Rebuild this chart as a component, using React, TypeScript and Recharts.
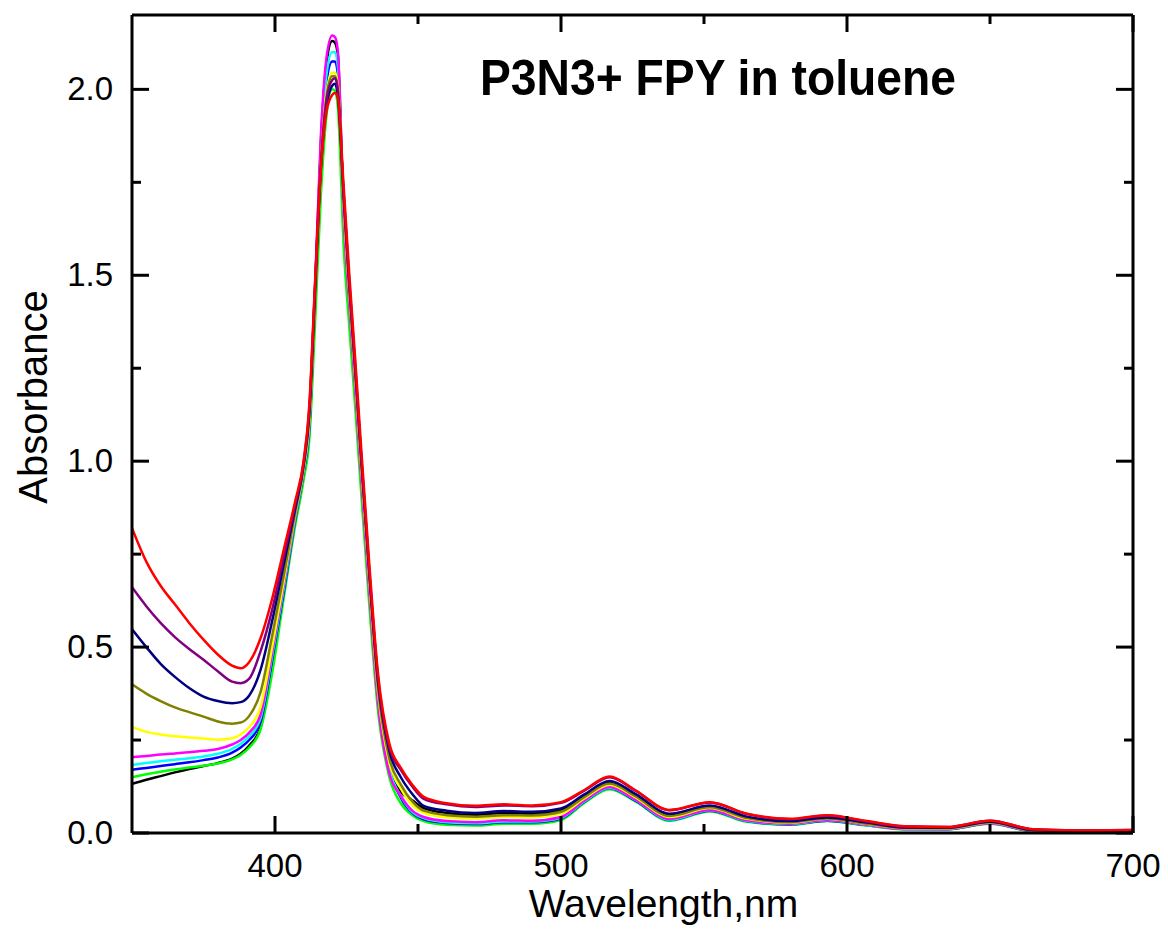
import { LineChart, Line, XAxis, YAxis } from 'recharts'

// wavelength grid, nm
const wavelengths = [
  350, 355, 360, 365, 370, 375, 380, 385, 388, 391, 395,
  399, 403, 407, 410, 412, 414, 416, 418,
  420, 421, 422, 424, 426, 428, 430, 433, 436, 440, 444, 448,
  452, 460, 470, 480, 490, 500, 508, 517, 526, 538, 552, 565, 580, 593, 607, 620, 635, 650, 665, 680, 700,
]

const blackAbs = [
  0.132, 0.143, 0.153, 0.163, 0.172, 0.18, 0.188, 0.2, 0.213, 0.235, 0.285,
  0.45, 0.64, 0.835, 0.96, 1.08, 1.45, 1.85, 2.07,
  2.13, 2.125, 2.09, 1.66, 1.42, 1.2, 0.97, 0.65, 0.36, 0.17, 0.11, 0.088,
  0.067, 0.054, 0.049, 0.054, 0.052, 0.061, 0.099, 0.137, 0.102, 0.049, 0.072, 0.042, 0.031, 0.041, 0.027, 0.014, 0.013, 0.029, 0.008, 0.005, 0.006,
]
const greenAbs = [
  0.15, 0.158, 0.165, 0.171, 0.176, 0.181, 0.187, 0.198, 0.21, 0.23, 0.28,
  0.43, 0.63, 0.825, 0.95, 1.06, 1.37, 1.71, 1.93,
  2.0, 1.995, 1.95, 1.58, 1.36, 1.15, 0.93, 0.61, 0.33, 0.15, 0.08, 0.048,
  0.032, 0.022, 0.02, 0.025, 0.025, 0.035, 0.08, 0.118, 0.085, 0.033, 0.058, 0.03, 0.022, 0.032, 0.02, 0.01, 0.01, 0.025, 0.005, 0.003, 0.003,
]
const blueAbs = [
  0.17, 0.175, 0.18, 0.185, 0.19, 0.196, 0.203, 0.216, 0.23, 0.25, 0.3,
  0.465, 0.645, 0.84, 0.97, 1.09, 1.44, 1.8, 2.02,
  2.075, 2.075, 2.04, 1.68, 1.44, 1.22, 0.99, 0.665, 0.37, 0.175, 0.095, 0.054,
  0.037, 0.027, 0.024, 0.029, 0.029, 0.039, 0.083, 0.121, 0.087, 0.035, 0.06, 0.032, 0.023, 0.033, 0.021, 0.011, 0.01, 0.026, 0.005, 0.003, 0.003,
]
const cyanAbs = [
  0.183, 0.188, 0.193, 0.197, 0.201, 0.206, 0.213, 0.226, 0.24, 0.26, 0.31,
  0.475, 0.655, 0.845, 0.975, 1.1, 1.45, 1.82, 2.04,
  2.1, 2.1, 2.06, 1.67, 1.43, 1.21, 0.98, 0.655, 0.36, 0.17, 0.1, 0.057,
  0.04, 0.029, 0.026, 0.031, 0.031, 0.041, 0.084, 0.122, 0.089, 0.036, 0.061, 0.033, 0.024, 0.034, 0.021, 0.011, 0.011, 0.026, 0.006, 0.003, 0.004,
]
const magentaAbs = [
  0.204, 0.207, 0.211, 0.214, 0.217, 0.221, 0.226, 0.238, 0.25, 0.27, 0.32,
  0.485, 0.665, 0.85, 0.98, 1.11, 1.47, 1.87, 2.085,
  2.145, 2.14, 2.1, 1.66, 1.42, 1.2, 0.97, 0.645, 0.35, 0.16, 0.1, 0.06,
  0.043, 0.032, 0.029, 0.034, 0.033, 0.043, 0.086, 0.124, 0.09, 0.038, 0.062, 0.034, 0.025, 0.035, 0.022, 0.011, 0.011, 0.026, 0.006, 0.004, 0.004,
]
const yellowAbs = [
  0.285, 0.272, 0.265, 0.26, 0.257, 0.254, 0.251, 0.255, 0.265, 0.285, 0.34,
  0.5, 0.675, 0.855, 0.98, 1.11, 1.44, 1.79, 1.99,
  2.045, 2.045, 2.01, 1.69, 1.45, 1.23, 1.0, 0.675, 0.38, 0.19, 0.12, 0.075,
  0.054, 0.042, 0.039, 0.043, 0.042, 0.052, 0.092, 0.13, 0.096, 0.043, 0.067, 0.038, 0.028, 0.038, 0.024, 0.013, 0.012, 0.028, 0.007, 0.004, 0.005,
]
const oliveAbs = [
  0.4, 0.375, 0.355, 0.338, 0.325, 0.313, 0.3, 0.294, 0.297, 0.315, 0.38,
  0.53, 0.69, 0.86, 0.985, 1.12, 1.43, 1.79, 1.98,
  2.035, 2.035, 2.0, 1.7, 1.46, 1.24, 1.01, 0.685, 0.39, 0.2, 0.13, 0.085,
  0.06, 0.048, 0.044, 0.048, 0.047, 0.057, 0.096, 0.133, 0.099, 0.046, 0.069, 0.04, 0.029, 0.039, 0.025, 0.014, 0.013, 0.029, 0.007, 0.005, 0.005,
]
const navyAbs = [
  0.548, 0.5, 0.455, 0.42, 0.39, 0.367, 0.355, 0.349, 0.352, 0.37, 0.44,
  0.57, 0.72, 0.87, 0.99, 1.13, 1.46, 1.78, 1.955,
  2.01, 2.015, 1.98, 1.72, 1.48, 1.26, 1.03, 0.7, 0.41, 0.22, 0.15, 0.105,
  0.073, 0.06, 0.054, 0.059, 0.057, 0.066, 0.103, 0.14, 0.105, 0.052, 0.074, 0.044, 0.032, 0.042, 0.028, 0.015, 0.014, 0.03, 0.008, 0.006, 0.006,
]
const purpleAbs = [
  0.661, 0.61, 0.565, 0.527, 0.495, 0.466, 0.435, 0.407, 0.403, 0.415, 0.49,
  0.6, 0.74, 0.88, 0.995, 1.14, 1.47, 1.79, 1.97,
  2.025, 2.03, 1.995, 1.71, 1.47, 1.25, 1.025, 0.7, 0.42, 0.23, 0.17, 0.125,
  0.092, 0.077, 0.07, 0.074, 0.072, 0.081, 0.113, 0.15, 0.114, 0.061, 0.082, 0.051, 0.037, 0.047, 0.031, 0.018, 0.016, 0.033, 0.01, 0.007, 0.008,
]
const redAbs = [
  0.82, 0.73, 0.665, 0.615, 0.565, 0.52, 0.48, 0.45, 0.443, 0.46, 0.525,
  0.63, 0.76, 0.89, 1.0, 1.15, 1.48, 1.78, 1.94,
  1.985, 1.99, 1.975, 1.74, 1.5, 1.28, 1.05, 0.72, 0.43, 0.24, 0.175, 0.13,
  0.097, 0.08, 0.073, 0.077, 0.074, 0.083, 0.115, 0.152, 0.115, 0.062, 0.083, 0.052, 0.038, 0.048, 0.032, 0.018, 0.016, 0.033, 0.01, 0.007, 0.008,
]

const xTicks = [400, 450, 500, 550, 600, 650, 700]
const yTicks = [0, 0.25, 0.5, 0.75, 1.0, 1.25, 1.5, 1.75, 2.0]

const series = [
  { key: 'black', color: '#000000', values: blackAbs },
  { key: 'green', color: '#00ff00', values: greenAbs },
  { key: 'blue', color: '#0000ff', values: blueAbs },
  { key: 'cyan', color: '#00ffff', values: cyanAbs },
  { key: 'magenta', color: '#ff00ff', values: magentaAbs },
  { key: 'yellow', color: '#ffff00', values: yellowAbs },
  { key: 'olive', color: '#808000', values: oliveAbs },
  { key: 'navy', color: '#000080', values: navyAbs },
  { key: 'purple', color: '#800080', values: purpleAbs },
  { key: 'red', color: '#ff0000', values: redAbs },
]

const data = wavelengths.map((wl, i) => {
  const row: Record<string, number> = { wl }
  series.forEach((s) => {
    row[s.key] = s.values[i]
  })
  return row
})

const FONT = "'Liberation Sans', Arial, Helvetica, sans-serif"
const MAJOR = 17
const MINOR = 9

const isMajorY = (v: number) => Math.abs(v * 2 - Math.round(v * 2)) < 1e-6

const BottomTick = ({ x, y, payload }: any) => {
  const major = payload.value % 100 === 0
  return (
    <g>
      <line x1={x} x2={x} y1={y} y2={y - (major ? MAJOR : MINOR)} stroke="#000" strokeWidth={3} />
      {major && (
        <text x={x} y={y + 44} textAnchor="middle" fontSize={33} fontFamily={FONT} fill="#000">
          {payload.value}
        </text>
      )}
    </g>
  )
}

const TopTick = ({ x, y, payload }: any) => {
  const major = payload.value % 100 === 0
  return <line x1={x} x2={x} y1={y} y2={y + (major ? MAJOR : MINOR)} stroke="#000" strokeWidth={3} />
}

const LeftTick = ({ x, y, payload }: any) => {
  const major = isMajorY(payload.value)
  return (
    <g>
      <line x1={x} x2={x + (major ? MAJOR : MINOR)} y1={y} y2={y} stroke="#000" strokeWidth={3} />
      {major && (
        <text x={x - 19} y={y + 11} textAnchor="end" fontSize={33} fontFamily={FONT} fill="#000">
          {payload.value.toFixed(1)}
        </text>
      )}
    </g>
  )
}

const RightTick = ({ x, y, payload }: any) => {
  const major = isMajorY(payload.value)
  return <line x1={x} x2={x - (major ? MAJOR : MINOR)} y1={y} y2={y} stroke="#000" strokeWidth={3} />
}

const axisLine = { stroke: '#000', strokeWidth: 3 }

const App = () => {
  return (
    <div style={{ position: 'absolute', left: 0, top: 0, background: '#fff' }}>
      <LineChart width={1168} height={937} data={data} margin={{ top: 14, right: 34, left: 0, bottom: 0 }}>
        <XAxis
          dataKey="wl"
          type="number"
          domain={[350, 700]}
          ticks={xTicks}
          interval={0}
          height={104}
          tickSize={0}
          tickMargin={0}
          tickLine={false}
          axisLine={axisLine}
          tick={BottomTick}
          allowDataOverflow
          label={(props: any) => {
            const vb = props.viewBox
            return (
              <text x={vb.x + vb.width / 2 + 31} y={vb.y + 84} textAnchor="middle" fontSize={39} fontFamily={FONT} fill="#000">
                Wavelength,nm
              </text>
            )
          }}
        />
        <XAxis
          xAxisId="top"
          orientation="top"
          dataKey="wl"
          type="number"
          domain={[350, 700]}
          ticks={xTicks}
          interval={0}
          height={1}
          tickSize={0}
          tickMargin={0}
          tickLine={false}
          axisLine={axisLine}
          tick={TopTick}
          allowDataOverflow
          label={() => (
            <text x={480} y={95} fontSize={50} fontWeight="bold" fontFamily={FONT} fill="#000" textLength={476} lengthAdjust="spacingAndGlyphs">
              P3N3+ FPY in toluene
            </text>
          )}
        />
        <YAxis
          type="number"
          domain={[0, 2.2]}
          ticks={yTicks}
          interval={0}
          width={132}
          tickSize={0}
          tickMargin={0}
          tickLine={false}
          axisLine={axisLine}
          tick={LeftTick}
          allowDataOverflow
          label={() => (
            <text x={47} y={397} transform="rotate(-90 47 397)" textAnchor="middle" fontSize={40} fontFamily={FONT} fill="#000">
              Absorbance
            </text>
          )}
        />
        <YAxis
          yAxisId="right"
          orientation="right"
          type="number"
          domain={[0, 2.2]}
          ticks={yTicks}
          interval={0}
          width={1}
          tickSize={0}
          tickMargin={0}
          tickLine={false}
          axisLine={axisLine}
          tick={RightTick}
          allowDataOverflow
        />
        {series.map((s) => (
          <Line
            key={s.key}
            dataKey={s.key}
            type="monotone"
            stroke={s.color}
            strokeWidth={2.5}
            dot={false}
            activeDot={false}
            isAnimationActive={false}
          />
        ))}
      </LineChart>
    </div>
  )
}

export default App
